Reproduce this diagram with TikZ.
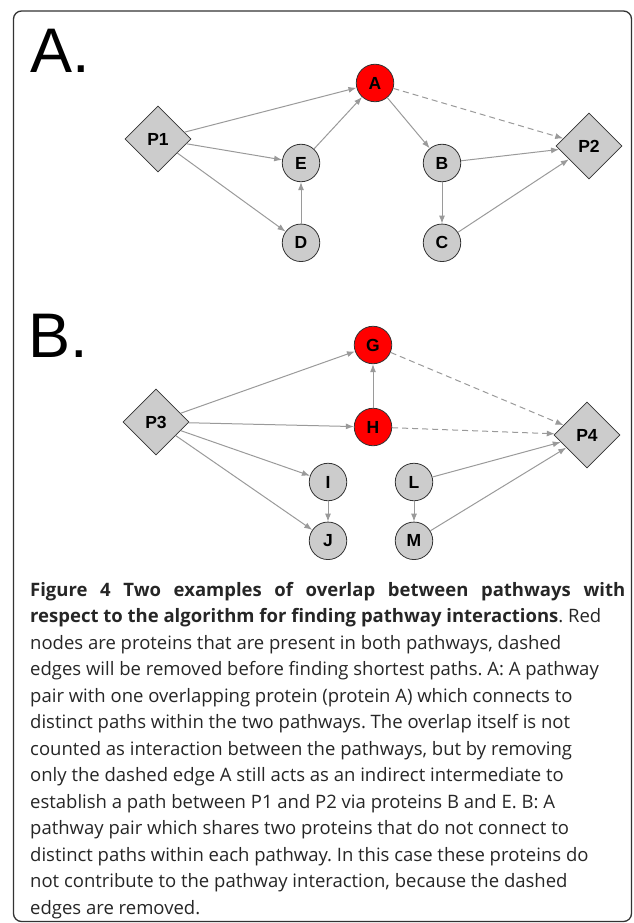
\documentclass[tikz,border=0pt]{standalone}
\usepackage{fontspec}
\usepackage{tikz}
\usepackage{xcolor}
\usetikzlibrary{arrows.meta, positioning, shapes.geometric}
\setmainfont{Open Sans}
\newfontfamily\labelfont{Liberation Sans}
\frenchspacing
\definecolor{protgray}{HTML}{CCCCCC}
\definecolor{sharedred}{HTML}{FF0000}
\definecolor{edgegray}{HTML}{9A9A9A}
\definecolor{rimgray}{HTML}{333333}
\tikzset{
  prot/.style={
    circle, draw=rimgray, fill=protgray, line width=0.8pt,
    minimum size=37.5pt, inner sep=0pt,
    font=\labelfont\bfseries\fontsize{17.5pt}{17.5pt}\selectfont
  },
  shared/.style={prot, fill=sharedred},
  pathw/.style={
    diamond, aspect=1, draw=rimgray, fill=protgray, line width=0.8pt,
    minimum size=66pt, inner sep=0pt,
    font=\labelfont\bfseries\fontsize{17.5pt}{17.5pt}\selectfont
  },
  panel/.style={anchor=base west, inner sep=0pt,
    font=\labelfont\fontsize{63pt}{63pt}\selectfont},
  link/.style={-{Latex[length=8pt, width=6pt]}, line width=1pt, color=edgegray},
  cutlink/.style={link, dash pattern=on 6pt off 4pt}
}

\begin{document}
\begin{tikzpicture}[x=1pt, y=-1pt]
    \useasboundingbox (0,0) rectangle (633,923);
    \draw[rimgray, line width=1.3pt, rounded corners=8pt] (13.5,11) rectangle (631.5,921.5);

    \node[panel] (labA) at (30,73) {A.};
    \node[panel] (labB) at (28,357) {B.};

    \node[shared] (A) at (375,83) {A};
    \node[pathw] (P1) at (158,139) {P1};
    \node[pathw] (P2) at (589,146) {P2};
    \node[prot] (E) at (301,163) {E};
    \node[prot, below=41.5pt of E] (D) {D};
    \node[prot] (B) at (442,163) {B};
    \node[prot, below=41.5pt of B] (C) {C};

    \draw[link] (P1) -- (A);
    \draw[link] (P1) -- (E);
    \draw[link] (P1) -- (D);
    \draw[link] (D) -- (E);
    \draw[link] (E) -- (A);
    \draw[link] (A) -- (B);
    \draw[link] (B) -- (C);
    \draw[link] (B) -- (P2);
    \draw[link] (C) -- (P2);
    \draw[cutlink] (A) -- (P2);

    \node[shared] (G) at (373,345) {G};
    \node[shared] (H) at (373,427) {H};
    \node[pathw] (P3) at (156,422) {P3};
    \node[pathw] (P4) at (587,435) {P4};
    \node[prot] (I) at (328,482) {I};
    \node[prot, below=20.5pt of I] (J) {J};
    \node[prot] (L) at (414,482) {L};
    \node[prot, below=20.5pt of L] (M) {M};

    \draw[link] (P3) -- (G);
    \draw[link] (P3) -- (H);
    \draw[link] (P3) -- (I);
    \draw[link] (P3) -- (J);
    \draw[link] (H) -- (G);
    \draw[link] (I) -- (J);
    \draw[link] (L) -- (M);
    \draw[link] (L) -- (P4);
    \draw[link] (M) -- (P4);
    \draw[cutlink] (G) -- (P4);
    \draw[cutlink] (H) -- (P4);

    \node[anchor=base west, inner sep=0pt, align=left, text=black!85,
      font=\fontsize{18.5pt}{26.5pt}\selectfont] (cap) at (30,914) {%
      \makebox[595pt][s]{\bfseries Figure 4 Two examples of overlap between pathways with}\\
      \textbf{respect to the algorithm for finding pathway interactions}. Red\\
      nodes are proteins that are present in both pathways, dashed\\
      edges will be removed before finding shortest paths. A: A pathway\\
      pair with one overlapping protein (protein A) which connects to\\
      distinct paths within the two pathways. The overlap itself is not\\
      counted as interaction between the pathways, but by removing\\
      only the dashed edge A still acts as an indirect intermediate to\\
      establish a path between P1 and P2 via proteins B and E. B: A\\
      pathway pair which shares two proteins that do not connect to\\
      distinct paths within each pathway. In this case these proteins do\\
      not contribute to the pathway interaction, because the dashed\\
      edges are removed.};
\end{tikzpicture}
\end{document}
